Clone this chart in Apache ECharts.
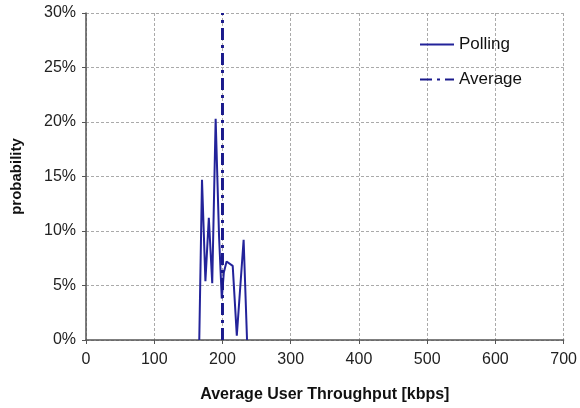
<!DOCTYPE html>
<html>
<head>
<meta charset="utf-8">
<script src="https://cdn.jsdelivr.net/npm/echarts@6/dist/echarts.min.js"></script>
<style>
  html, body { margin: 0; padding: 0; background: #fff; }
  #chart { width: 580px; height: 408px; }
</style>
</head>
<body>
<div id="chart"></div>
<script>
// throughput (kbps) and probability (%)
var throughput = [166, 170, 175, 180, 185, 190, 195, 199, 202, 206, 215, 221, 231, 236]
var pollingProb = [0, 14.7, 5.4, 11.2, 5.2, 20.3, 9.5, 3.8, 6.2, 7.2, 6.8, 0.4, 9.2, 0]
var averageX = 200
var averageRange = [0, 30]
var xTicks = [0, 100, 200, 300, 400, 500, 600, 700]
var yTicks = [0, 5, 10, 15, 20, 25, 30]

var lineColor = '#23239a'
var chart = echarts.init(document.getElementById('chart'))

chart.setOption({
  animation: false,
  textStyle: { fontFamily: 'Liberation Sans, Arial, sans-serif' },
  grid: { left: 86, right: 15, top: 13, bottom: 67 },
  legend: {
    orient: 'vertical',
    left: 414,
    top: 31,
    itemGap: 18,
    itemWidth: 34,
    itemHeight: 18,
    itemStyle: { opacity: 0 },
    textStyle: { fontSize: 17, color: '#111' },
    data: ['Polling', 'Average']
  },
  xAxis: {
    type: 'value',
    min: xTicks[0],
    max: xTicks[xTicks.length - 1],
    interval: 100,
    name: 'Average User Throughput [kbps]',
    nameLocation: 'middle',
    nameGap: 47,
    nameTextStyle: { fontSize: 16, fontWeight: 'bold', color: '#111' },
    axisLine: { lineStyle: { color: '#555', width: 1.5 } },
    axisTick: { show: true, length: 4, lineStyle: { color: '#555' } },
    axisLabel: { fontSize: 16, color: '#222', margin: 12 },
    splitLine: { show: true, lineStyle: { color: '#aaa', type: [3, 2] } }
  },
  yAxis: {
    type: 'value',
    min: yTicks[0],
    max: yTicks[yTicks.length - 1],
    interval: 5,
    name: 'probability',
    nameLocation: 'middle',
    nameGap: 62,
    nameTextStyle: { fontSize: 15, fontWeight: 'bold', color: '#111' },
    axisLine: { show: true, lineStyle: { color: '#555', width: 1.5 } },
    axisTick: { show: true, length: 4, lineStyle: { color: '#555' } },
    axisLabel: { fontSize: 16, color: '#222', margin: 10, formatter: '{value}%' },
    splitLine: { show: true, lineStyle: { color: '#aaa', type: [3, 2] } }
  },
  series: [
    {
      name: 'Polling',
      type: 'line',
      symbol: 'none',
      color: lineColor,
      lineStyle: { width: 2, color: lineColor },
      data: throughput.map(function (x, i) { return [x, pollingProb[i]] })
    },
    {
      name: 'Average',
      type: 'line',
      symbol: 'none',
      color: '#1a1a8c',
      lineStyle: { width: 3, color: '#1a1a8c', type: [12, 5, 3, 5] },
      data: averageRange.map(function (y) { return [averageX, y] })
    }
  ]
})
</script>
</body>
</html>
